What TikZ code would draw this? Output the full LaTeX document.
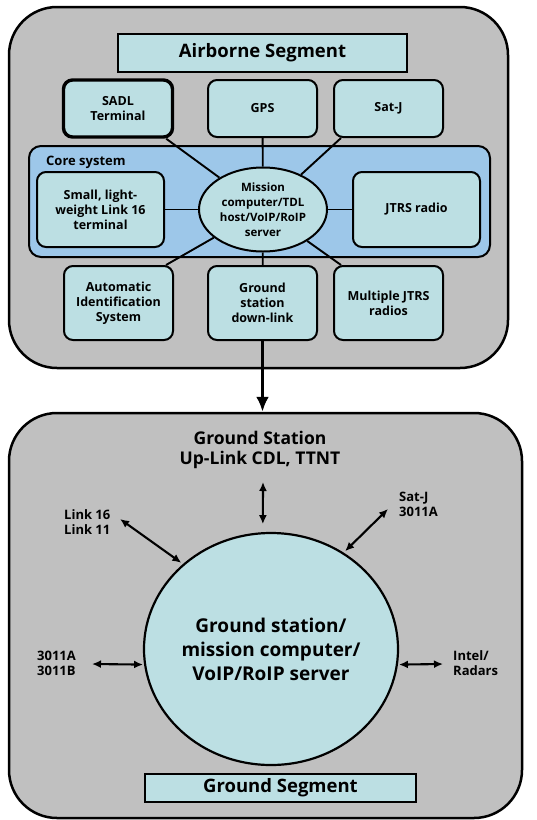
\documentclass[tikz,border=0pt]{standalone}
\usepackage{fontspec}
\setmainfont{Open Sans}
\usetikzlibrary{shapes.geometric,arrows.meta}

\definecolor{panelgrey}{RGB}{192,192,192}
\definecolor{boxcyan}{RGB}{188,223,227}
\definecolor{coreblue}{RGB}{157,199,233}

\newcommand{\fsz}[2]{\bfseries\fontsize{#1}{#2}\selectfont}

\begin{document}
\begin{tikzpicture}[x=1pt,y=-1pt,
    panel/.style={draw, line width=2.5pt, fill=panelgrey, rounded corners=48pt, inner sep=0pt},
    unit/.style={draw, line width=2pt, fill=boxcyan, rounded corners=9pt, align=center,
        font=\fsz{12.5}{15}, minimum width=109pt, minimum height=57pt, inner sep=2pt},
    title/.style={draw, line width=1.4pt, fill=boxcyan, font=\fsz{18.5}{20}, inner sep=0pt},
    link/.style={line width=1.9pt},
    duplex/.style={line width=2.1pt, {Latex[length=9pt,width=8pt]}-{Latex[length=9pt,width=8pt]}},
    tag/.style={font=\fsz{13}{15}, align=left, inner sep=0pt}
]
    \useasboundingbox (0,0) rectangle (536,820);

    % airborne segment
    \node[panel, minimum width=499pt, minimum height=361pt] (air) at (258.5,187.5) {};
    \node[title, minimum width=289pt, minimum height=38pt] (airt) at (262.5,53) {Airborne Segment};

    \node[unit, line width=3.4pt] (sadl) at (118,108.5) {SADL\\Terminal};
    \node[unit] (gps) at (262.5,108.5) {GPS};
    \node[unit] (satj) at (388.5,108.5) {Sat-J};

    \node[draw, line width=2pt, fill=coreblue, rounded corners=12pt,
        minimum width=461pt, minimum height=111pt] (core) at (259.5,201.5) {};
    \node[font=\fsz{13}{15}, anchor=west, inner sep=0pt] (coret) at (46,162) {Core system};

    \node[unit, minimum width=127pt, minimum height=75pt] (small) at (100.5,209.5)
        {Small, light-\\weight Link 16\\terminal};
    \node[unit, minimum width=127pt, minimum height=75pt] (jtrs) at (416.5,209.5) {JTRS radio};
    \node[ellipse, draw, line width=2pt, fill=boxcyan, align=center, inner sep=0pt,
        font=\fsz{11.5}{15}, minimum width=128pt, minimum height=84pt] (mc) at (263,209.5)
        {Mission\\computer/TDL\\host/VoIP/RoIP\\server};

    \node[unit, minimum height=74pt] (ais) at (118.5,303) {Automatic\\Identification\\System};
    \node[unit, minimum height=74pt] (gdl) at (262.5,303) {Ground\\station\\down-link};
    \node[unit, minimum height=74pt] (multi) at (388.5,303) {Multiple JTRS\\radios};

    \draw[link] ([xshift=-8pt]sadl.south east) -- (mc);
    \draw[link] (gps) -- (mc);
    \draw[link] ([xshift=8pt]satj.south west) -- (mc);
    \draw[link] (small) -- (mc);
    \draw[link] (mc) -- (jtrs);
    \draw[link] ([xshift=-8pt]ais.north east) -- (mc);
    \draw[link] (mc) -- (gdl);
    \draw[link] ([xshift=8pt]multi.north west) -- (mc);

    % ground segment
    \node[panel, minimum width=513pt, minimum height=405pt] (gnd) at (265.5,615.5) {};
    \draw[line width=3.8pt, -{Latex[length=15pt,width=13pt]}] (gdl.south) -- (gdl.south |- gnd.north);

    \node[font=\fsz{17.5}{20}, align=center] (gsl) at (260,450) {Ground Station\\Up-Link CDL, TTNT};
    \node[ellipse, draw, line width=2.2pt, fill=boxcyan, align=center, inner sep=0pt,
        font=\fsz{19}{24}, minimum width=254pt, minimum height=232pt] (gsc) at (271,649)
        {Ground station/\\mission computer/\\VoIP/RoIP server};
    \node[title, minimum width=271pt, minimum height=28pt] (gndt) at (280.5,788) {Ground Segment};

    \node[tag, anchor=west] (lnk) at (64,522) {Link 16\\Link 11};
    \node[tag, anchor=west] (sat) at (399,504.5) {Sat-J\\3011A};
    \node[tag, anchor=west] (hf) at (37,663) {3011A\\3011B};
    \node[tag, anchor=west] (intel) at (453,663) {Intel/\\Radars};

    \coordinate (upend) at (263,482);
    \coordinate (lnkend) at (120,519);
    \coordinate (satend) at (388,509);
    \coordinate (hfend) at (92,664);
    \coordinate (intelend) at (443,664);

    \draw[duplex, shorten >=8pt] (upend) -- (gsc.94);
    \draw[duplex, shorten >=2pt] (lnkend) -- (gsc.136);
    \draw[duplex, shorten >=2pt] (satend) -- (gsc.53);
    \draw[duplex, shorten >=1pt] (hfend) -- (gsc.187);
    \draw[duplex, shorten >=1pt] (intelend) -- (gsc.-7);
\end{tikzpicture}
\end{document}
